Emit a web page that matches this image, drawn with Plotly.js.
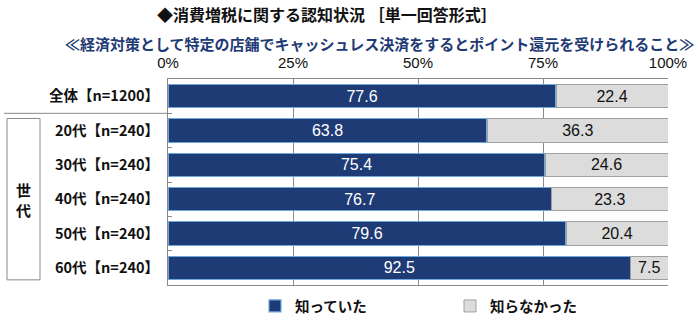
<!DOCTYPE html>
<html><head><meta charset="utf-8">
<script src="https://cdn.plot.ly/plotly-3.0.1.min.js"></script>
<style>html,body{margin:0;padding:0;background:#fff}#c{width:700px;height:321px}</style>
</head><body><div id="c"></div>
<script>
const categories = ["全体【n=1200】","20代【n=240】","30代【n=240】","40代【n=240】","50代【n=240】","60代【n=240】"];
const knew = [77.6, 63.8, 75.4, 76.7, 79.6, 92.5];
const didNotKnow = [22.4, 36.3, 24.6, 23.3, 20.4, 7.5];
const seriesNames = ["知っていた","知らなかった"];
const xTickVals = [0,25,50,75,100];
const xTickText = ["0%","25%","50%","75%","100%"];
const titleText = "◆消費増税に関する認知状況 ［単一回答形式］";
const subtitleText = "≪経済対策として特定の店舗でキャッシュレス決済をするとポイント還元を受けられること≫";
const groupLabel = "世<br>代";

const jp = '"Noto Sans CJK JP", sans-serif';
const num = '"Liberation Sans", Arial, sans-serif';
const traces = [
  {type:'bar', orientation:'h', name:seriesNames[0], y:categories, x:knew,
   text:knew.map(v=>v.toFixed(1)), textposition:'inside', insidetextanchor:'middle', constraintext:'none',
   textfont:{color:'#ffffff', size:16, family:num},
   marker:{color:'#1F3B75', line:{color:'#6FA8DC', width:1.2}}, hoverinfo:'none'},
  {type:'bar', orientation:'h', name:seriesNames[1], y:categories, x:didNotKnow,
   text:didNotKnow.map(v=>v.toFixed(1)), textposition:'inside', insidetextanchor:'middle', constraintext:'none',
   textfont:{color:'#111111', size:16, family:num},
   marker:{color:'#DCDCDC', line:{color:'#A0A0A0', width:1}}, hoverinfo:'none'}
];
const layout = {
  width:700, height:321, margin:{l:168, r:32, t:79, b:36, autoexpand:false},
  paper_bgcolor:'#fff', plot_bgcolor:'#fff',
  barmode:'stack', bargap:0.32, showlegend:true,
  xaxis:{range:[0,100], side:'top', tickvals:xTickVals, ticktext:xTickText,
    showgrid:true, gridcolor:'#8a8a8a', gridwidth:1, zeroline:false,
    showline:true, linecolor:'#8a8a8a', mirror:true, ticks:'', ticklen:0, ticklabelstandoff:4,
    tickfont:{size:15, family:num, color:'#111'}, fixedrange:true},
  yaxis:{type:'category', autorange:'reversed', showgrid:false, zeroline:false,
    showline:true, linecolor:'#8a8a8a', ticks:'inside', tickson:'boundaries', ticklen:4, tickcolor:'#8a8a8a',
    tickfont:{size:14.5, family:jp, color:'#111', weight:'bold'}, ticklabelstandoff:5},
  legend:{orientation:'h', xref:'container', x:255/700, xanchor:'left', yref:'container', y:1-290/321, yanchor:'top',
    font:{size:14.5, family:jp, color:'#111', weight:'bold'}, itemwidth:30, entrywidth:150, traceorder:'normal',
    tracegroupgap:0},
  annotations:[
    {text:titleText, xref:'paper', yref:'paper', x:(327-168)/500, y:1, yshift:65, xanchor:'center', yanchor:'middle',
     showarrow:false, font:{size:16, family:jp, color:'#111', weight:'bold'}},
    {text:subtitleText, xref:'paper', yref:'paper', x:(379-168)/500, y:1, yshift:36, xanchor:'center', yanchor:'middle',
     showarrow:false, font:{size:15, family:jp, color:'#1F3B75', weight:'bold'}},
    {text:groupLabel, xref:'paper', yref:'y', x:(23-168)/500, y:3, xanchor:'center', yanchor:'middle',
     showarrow:false, font:{size:15, family:jp, color:'#111', weight:'bold'}}
  ],
  shapes:[
    {type:'line', xref:'paper', yref:'y', x0:(4-168)/500, x1:0, y0:0.5, y1:0.5, line:{color:'#8a8a8a', width:1}},
    {type:'rect', xref:'paper', yref:'y', x0:(7-168)/500, x1:(40-168)/500, y0:0.65, y1:5.35, line:{color:'#8a8a8a', width:1}}
  ]
};
Plotly.newPlot('c', traces, layout, {displayModeBar:false, staticPlot:true});
</script></body></html>
